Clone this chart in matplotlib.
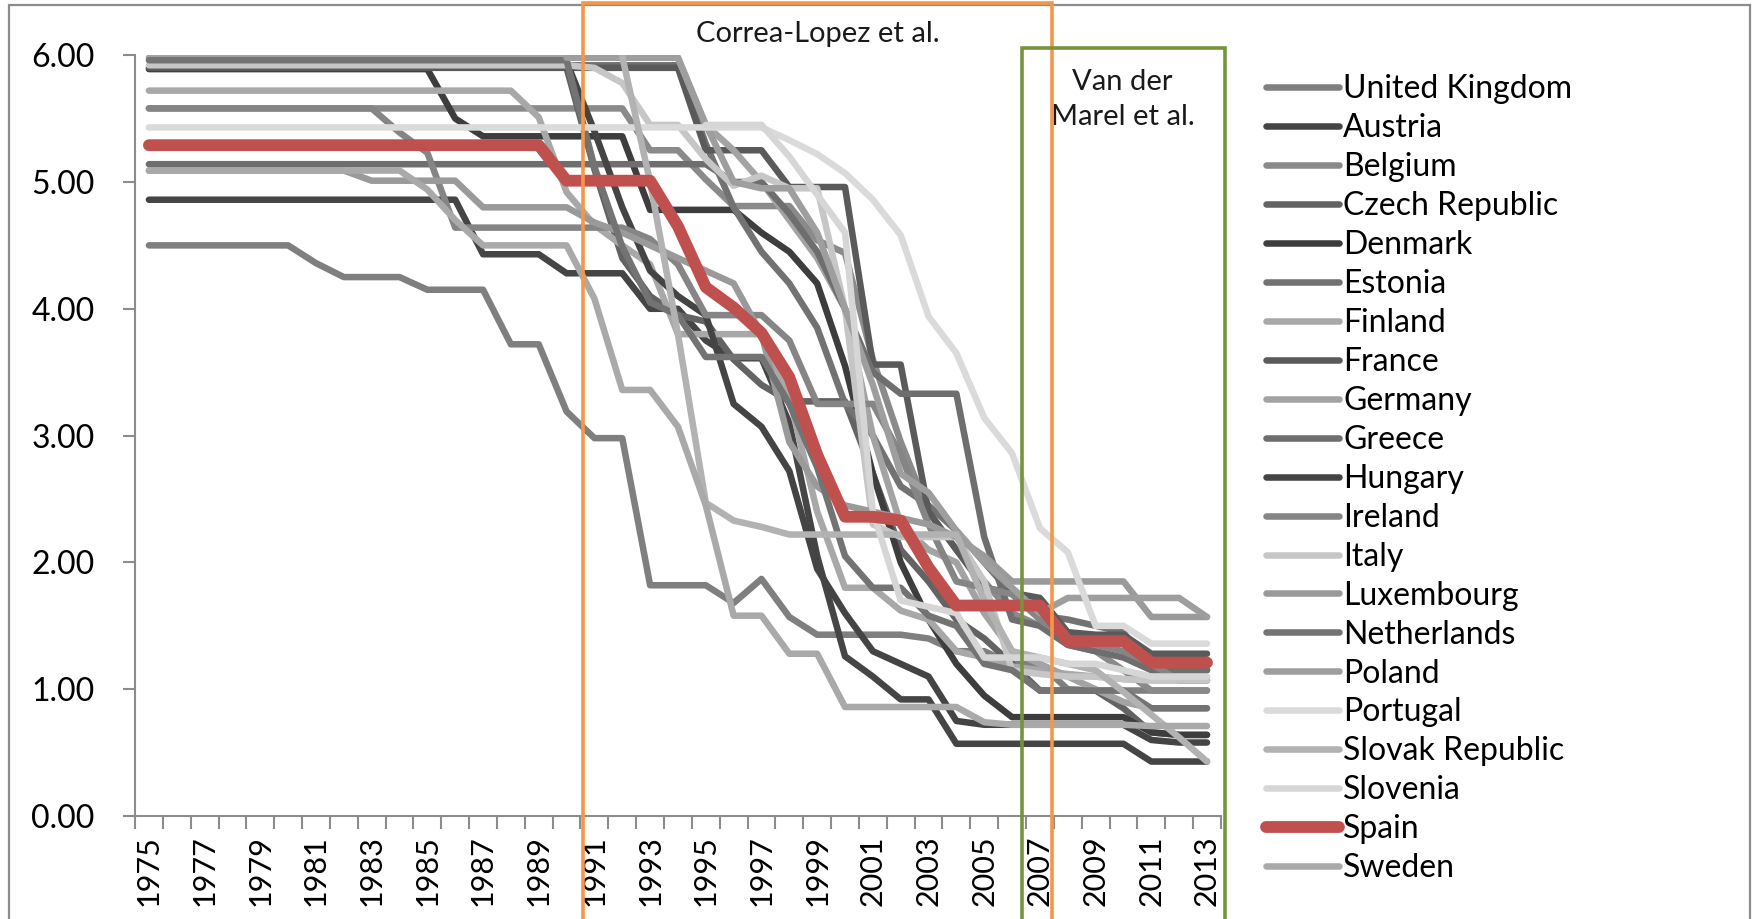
import numpy as np
import matplotlib
matplotlib.use("Agg")
import matplotlib.pyplot as plt
import matplotlib.transforms as mtransforms
from matplotlib.patches import Rectangle

plt.rcParams['font.family'] = ['Lato', 'DejaVu Sans']

years = list(range(1975, 2014))
N = None

uk = [4.50, 4.50, 4.50, 4.50, 4.50, 4.50, 4.36, 4.25, 4.25, 4.25, 4.15, 4.15, 4.15, 3.72, 3.72, 3.19, 2.98, 2.98, 1.82, 1.82,
      1.82, 1.68, 1.87, 1.57, 1.43, 1.43, 1.43, 1.43, 1.40, 1.30, 1.30, 1.20, 1.20, 1.00, 0.99, 0.99, 0.99, 0.99, 0.99]
austria = [4.86, 4.86, 4.86, 4.86, 4.86, 4.86, 4.86, 4.86, 4.86, 4.86, 4.86, 4.86, 4.43, 4.43, 4.43, 4.28, 4.28, 4.28, 4.00, 4.00,
           3.75, 3.61, 3.61, 3.10, 2.05, 1.26, 1.10, 0.92, 0.92, 0.57, 0.57, 0.57, 0.57, 0.57, 0.57, 0.57, 0.43, 0.43, 0.43]
belgium = [5.58, 5.58, 5.58, 5.58, 5.58, 5.58, 5.58, 5.58, 5.58, 5.58, 5.58, 5.58, 5.58, 5.58, 5.58, 5.58, 5.58, 5.58, 5.25, 5.25,
           5.02, 4.81, 4.81, 4.81, 4.54, 4.44, 3.60, 2.95, 2.40, 2.10, 1.85, 1.60, 1.50, 1.35, 1.30, 1.15, 0.99, 0.99, 0.99]
czech = [N, N, N, N, N, N, N, N, N, N, N, N, N, N, N, 5.90, 5.10, 4.40, 4.10, 3.95,
         3.90, 3.60, 3.40, 3.27, 3.27, 3.27, 2.70, 2.10, 1.85, 1.55, 1.40, 1.20, 0.99, 0.99, 0.99, 0.85, 0.66, 0.64, 0.64]
denmark = [5.89, 5.89, 5.89, 5.89, 5.89, 5.89, 5.89, 5.89, 5.89, 5.89, 5.89, 5.50, 5.36, 5.36, 5.36, 5.36, 5.36, 5.36, 4.78, 4.78,
           4.78, 4.78, 4.60, 4.45, 4.20, 3.55, 2.70, 2.00, 1.55, 1.20, 0.95, 0.78, 0.78, 0.78, 0.78, 0.78, 0.66, 0.64, 0.64]
estonia = [N, N, N, N, N, N, N, N, N, N, N, N, N, N, N, 5.92, 5.92, 5.92, 5.92, 5.92,
           5.30, 4.80, 4.45, 4.20, 3.85, 3.25, 3.00, 2.60, 2.45, 2.25, 2.00, 1.75, 1.58, 1.55, 1.50, 1.45, 1.15, 1.15, 1.15]
finland = [5.72, 5.72, 5.72, 5.72, 5.72, 5.72, 5.72, 5.72, 5.72, 5.72, 5.72, 5.72, 5.72, 5.72, 5.51, 4.92, 4.66, 4.50, 4.35, 3.80,
           3.80, 3.80, 3.80, 3.30, 2.40, 1.80, 1.80, 1.62, 1.55, 1.30, 1.25, 1.18, 1.15, 1.12, 1.10, 1.08, 1.07, 1.07, 1.07]
france = [5.90, 5.90, 5.90, 5.90, 5.90, 5.90, 5.90, 5.90, 5.90, 5.90, 5.90, 5.90, 5.90, 5.90, 5.90, 5.90, 5.90, 5.90, 5.90, 5.90,
          5.25, 5.25, 5.25, 4.96, 4.96, 4.96, 3.56, 3.56, 2.40, 2.10, 1.80, 1.76, 1.72, 1.45, 1.43, 1.43, 1.28, 1.28, 1.28]
germany = [5.98, 5.98, 5.98, 5.98, 5.98, 5.98, 5.98, 5.98, 5.98, 5.98, 5.98, 5.98, 5.98, 5.98, 5.98, 5.98, 5.98, 5.98, 5.98, 5.98,
           5.45, 5.25, 5.00, 4.70, 4.40, 4.00, 3.00, 2.30, 2.10, 2.00, 1.60, 1.30, 1.20, 1.10, 1.00, 0.90, 0.85, 0.85, 0.85]
greece = [5.14, 5.14, 5.14, 5.14, 5.14, 5.14, 5.14, 5.14, 5.14, 5.14, 5.14, 5.14, 5.14, 5.14, 5.14, 5.14, 5.14, 5.14, 5.14, 5.14,
          5.14, 5.00, 5.00, 4.75, 4.45, 4.00, 3.50, 3.33, 3.33, 3.33, 2.20, 1.55, 1.50, 1.35, 1.30, 1.25, 1.15, 1.15, 1.15]
hungary = [N, N, N, N, N, N, N, N, N, N, N, N, N, N, N, 5.95, 5.40, 4.80, 4.30, 4.10,
           3.95, 3.25, 3.07, 2.72, 1.95, 1.60, 1.30, 1.20, 1.10, 0.75, 0.72, 0.72, 0.72, 0.72, 0.72, 0.72, 0.60, 0.58, 0.58]
ireland = [5.58, 5.58, 5.58, 5.58, 5.58, 5.58, 5.58, 5.58, 5.58, 5.39, 5.23, 4.64, 4.64, 4.64, 4.64, 4.64, 4.64, 4.64, 4.55, 4.35,
           3.95, 3.95, 3.95, 3.75, 3.25, 3.25, 3.25, 2.85, 2.30, 1.85, 1.80, 1.75, 1.55, 1.40, 1.35, 1.30, 1.20, 1.07, 1.07]
italy = [5.92, 5.92, 5.92, 5.92, 5.92, 5.92, 5.92, 5.92, 5.92, 5.92, 5.92, 5.92, 5.92, 5.92, 5.92, 5.92, 5.90, 5.78, 5.45, 5.45,
         5.18, 4.97, 5.05, 4.95, 4.95, 4.00, 2.30, 2.20, 2.20, 2.20, 1.85, 1.15, 1.12, 1.10, 1.10, 1.08, 1.07, 1.07, 1.07]
luxembourg = [5.09, 5.09, 5.09, 5.09, 5.09, 5.09, 5.09, 5.09, 5.01, 5.01, 5.01, 5.01, 4.80, 4.80, 4.80, 4.80, 4.68, 4.60, 4.50, 4.40,
              4.30, 4.20, 3.80, 2.95, 2.60, 2.45, 2.40, 2.35, 2.30, 2.20, 2.05, 1.85, 1.85, 1.85, 1.85, 1.85, 1.57, 1.57, 1.57]
netherlands = [5.96, 5.96, 5.96, 5.96, 5.96, 5.96, 5.96, 5.96, 5.96, 5.96, 5.96, 5.96, 5.96, 5.96, 5.96, 5.96, 5.12, 4.49, 4.05, 3.95,
               3.62, 3.62, 3.62, 3.25, 2.75, 2.05, 1.80, 1.80, 1.58, 1.50, 1.20, 1.15, 0.99, 0.99, 0.99, 0.99, 0.85, 0.85, 0.85]
poland = [N, N, N, N, N, N, N, N, N, N, N, N, N, N, N, 5.98, 5.98, 5.98, 5.98, 5.98,
          5.45, 5.00, 4.95, 4.95, 4.60, 4.00, 3.40, 2.70, 2.55, 2.25, 2.00, 1.80, 1.60, 1.72, 1.72, 1.72, 1.72, 1.72, 1.57]
portugal = [5.43, 5.43, 5.43, 5.43, 5.43, 5.43, 5.43, 5.43, 5.43, 5.43, 5.43, 5.43, 5.43, 5.43, 5.43, 5.43, 5.43, 5.43, 5.43, 5.43,
            5.43, 5.43, 5.43, 5.33, 5.22, 5.07, 4.86, 4.58, 3.94, 3.65, 3.14, 2.86, 2.27, 2.08, 1.50, 1.50, 1.36, 1.36, 1.36]
slovakia = [N, N, N, N, N, N, N, N, N, N, N, N, N, N, N, N, N, 5.99, 5.00, 3.80,
            2.47, 2.33, 2.28, 2.22, 2.22, 2.22, 2.22, 2.22, 2.22, 2.22, 1.70, 1.30, 1.25, 1.20, 1.15, 0.98, 0.80, 0.62, 0.43]
slovenia = [N, N, N, N, N, N, N, N, N, N, N, N, N, N, N, N, N, N, N, N,
            5.45, 5.45, 5.45, 5.20, 4.90, 4.60, 2.40, 1.70, 1.65, 1.60, 1.25, 1.25, 1.25, 1.20, 1.20, 1.15, 1.10, 1.10, 1.10]
spain = [5.29, 5.29, 5.29, 5.29, 5.29, 5.29, 5.29, 5.29, 5.29, 5.29, 5.29, 5.29, 5.29, 5.29, 5.29, 5.01, 5.01, 5.01, 5.01, 4.65,
         4.17, 4.01, 3.81, 3.46, 2.85, 2.36, 2.36, 2.33, 1.96, 1.66, 1.66, 1.66, 1.66, 1.38, 1.38, 1.38, 1.21, 1.21, 1.21]
sweden = [5.09, 5.09, 5.09, 5.09, 5.09, 5.09, 5.09, 5.09, 5.09, 5.09, 4.94, 4.70, 4.50, 4.50, 4.50, 4.50, 4.08, 3.36, 3.36, 3.07,
          2.45, 1.58, 1.58, 1.28, 1.28, 0.86, 0.86, 0.86, 0.86, 0.86, 0.74, 0.72, 0.72, 0.72, 0.72, 0.72, 0.71, 0.71, 0.71]

countries = ["United Kingdom", "Austria", "Belgium", "Czech Republic", "Denmark", "Estonia",
             "Finland", "France", "Germany", "Greece", "Hungary", "Ireland", "Italy",
             "Luxembourg", "Netherlands", "Poland", "Portugal", "Slovak Republic",
             "Slovenia", "Spain", "Sweden"]
series = [uk, austria, belgium, czech, denmark, estonia, finland, france, germany, greece,
          hungary, ireland, italy, luxembourg, netherlands, poland, portugal, slovakia,
          slovenia, spain, sweden]
colors = ["#7f7f7f", "#454545", "#8a8a8a", "#636363", "#3d3d3d", "#727272", "#a8a8a8",
          "#5a5a5a", "#a3a3a3", "#6e6e6e", "#444444", "#858585", "#c6c6c6", "#9a9a9a",
          "#737373", "#9e9e9e", "#dadada", "#b2b2b2", "#d6d6d6", "#c0504d", "#a9a9a9"]

fig = plt.figure(figsize=(17.6, 9.19), dpi=100)
ax = fig.add_axes([0.0767, 0.112, 0.617, 0.828])

x = np.arange(len(years))
handles = []
for name, vals, col in zip(countries, series, colors):
    y = np.array([np.nan if v is None else v for v in vals], dtype=float)
    if name == "Spain":
        h, = ax.plot(x, y, color=col, lw=8.5, solid_capstyle='round', solid_joinstyle='round', zorder=5)
    else:
        h, = ax.plot(x, y, color=col, lw=4.7, solid_capstyle='round', solid_joinstyle='round', zorder=3)
    handles.append(h)

axis_col = "#8c8c8c"
ax.set_xlim(-0.5, len(years) - 0.5)
ax.set_ylim(0, 6)
ax.set_yticks(np.arange(0, 7, 1))
ax.set_yticklabels([f"{v:.2f}" for v in range(7)])
ax.set_xticks(x[::2])
ax.set_xticklabels([str(yr) for yr in years[::2]], rotation=90)
ax.set_xticks(np.arange(-0.5, len(years), 1), minor=True)
ax.tick_params(axis='x', which='major', length=0, pad=14, labelsize=22)
ax.tick_params(axis='x', which='minor', length=9, width=1.5, color=axis_col, direction='out')
ax.tick_params(axis='y', length=9, width=1.5, color=axis_col, labelsize=23, pad=20)
for s in ['top', 'right']:
    ax.spines[s].set_visible(False)
for s in ['left', 'bottom']:
    ax.spines[s].set_color(axis_col)
    ax.spines[s].set_linewidth(1.5)

# boxes marking the studies
trans = mtransforms.blended_transform_factory(ax.transData, fig.transFigure)
fig.add_artist(Rectangle((15.59, -0.2), 32.44 - 15.59, 1.2 - 0.0033, transform=trans,
                         fill=False, edgecolor="#f79646", lw=2.6, zorder=10, clip_on=False))
fig.add_artist(Rectangle((31.35, -0.2), 38.63 - 31.35, 0.2 + 0.948, transform=trans,
                         fill=False, edgecolor="#77933c", lw=2.6, zorder=10, clip_on=False))
fig.text(24.02, 0.963, "Correa-Lopez et al.", transform=trans, ha='center', va='center',
         fontsize=21, color="#1a1a1a")
fig.text(34.97, 0.892, "Van der\nMarel et al.", transform=trans, ha='center', va='center',
         fontsize=21, color="#1a1a1a", linespacing=1.45)

# chart border
fig.add_artist(Rectangle((9 / 1760, -0.2), (1750 - 9) / 1760, 1.2 - 4.5 / 919,
                         transform=fig.transFigure, fill=False, edgecolor="#8c8c8c", lw=1.6))

leg = fig.legend(handles, countries, loc='upper left', bbox_to_anchor=(0.712, 0.933),
                 frameon=False, fontsize=23, handlelength=2.3, handletextpad=0.12,
                 labelspacing=0.28, borderaxespad=0)

fig.savefig("out.png", dpi=100)
